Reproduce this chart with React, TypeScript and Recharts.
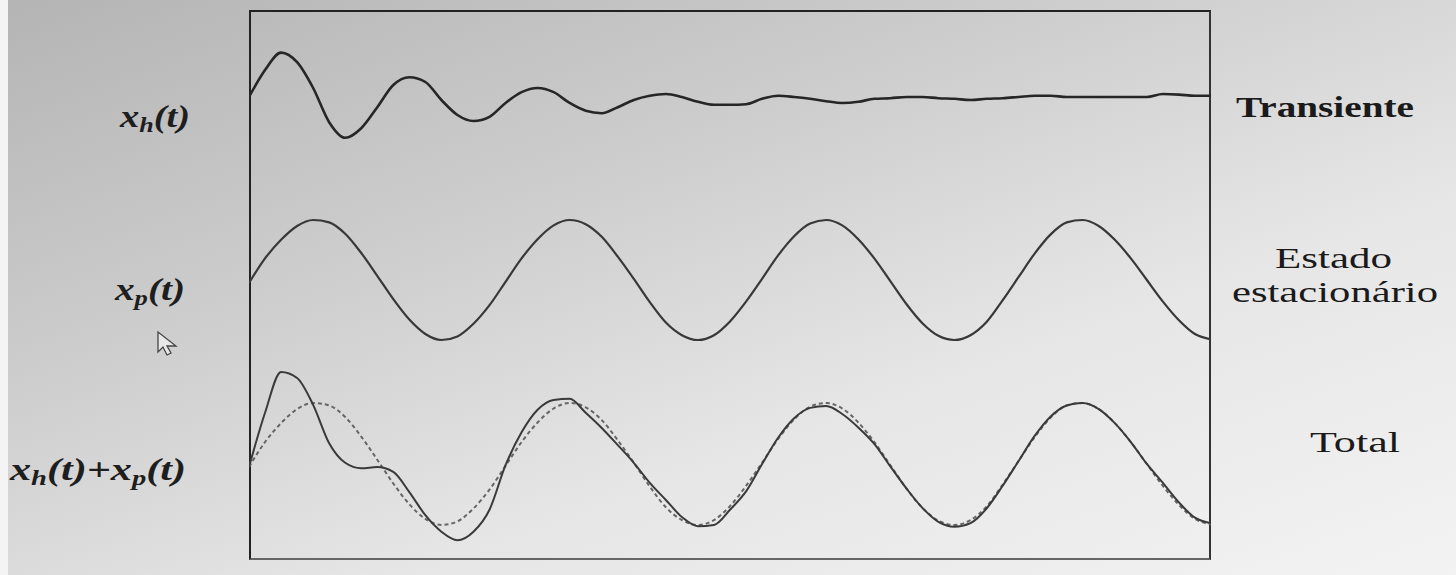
import React from "react";
import { ComposedChart, Line, XAxis, YAxis } from "recharts";

// values, one sample every ~16px across the frame
const transient = [
  0.0, 0.45, 0.74, 0.58, 0.15, -0.42, -0.68, -0.52, -0.17, 0.2, 0.33, 0.25, -0.05, -0.3, -0.4, -0.33,
  -0.1, 0.08, 0.15, 0.08, -0.1, -0.23, -0.27, -0.17, -0.05, 0.02, 0.05, 0.0, -0.08, -0.13, -0.13,
  -0.12, -0.03, 0.02, 0.0, -0.03, -0.07, -0.1, -0.08, -0.03, -0.02, 0.0, 0.0, -0.02, -0.03, -0.05,
  -0.03, -0.02, 0.0, 0.02, 0.02, 0.0, 0.0, 0.0, 0.0, 0.0, 0.0, 0.05, 0.04, 0.02, 0.02,
];

const steady = [
  -0.05, 0.36, 0.67, 0.9, 1.0, 0.96, 0.77, 0.45, 0.07, -0.32, -0.66, -0.9, -1.0, -0.94, -0.73, -0.42,
  -0.03, 0.36, 0.68, 0.91, 1.0, 0.93, 0.72, 0.39, 0.02, -0.37, -0.71, -0.92, -1.0, -0.92, -0.69,
  -0.36, 0.02, 0.41, 0.73, 0.94, 1.0, 0.91, 0.68, 0.36, -0.02, -0.4, -0.72, -0.93, -1.0, -0.92,
  -0.7, -0.34, 0.05, 0.44, 0.76, 0.96, 1.0, 0.9, 0.67, 0.36, 0.0, -0.36, -0.67, -0.9, -0.99,
];

const total = [
  -0.05, 0.84, 1.51, 1.41, 0.97, 0.34, 0.02, -0.07, -0.05, -0.13, -0.46, -0.84, -1.11, -1.25, -1.11,
  -0.75, -0.02, 0.52, 0.89, 1.05, 1.07, 0.84, 0.59, 0.31, 0.02, -0.31, -0.59, -0.87, -1.02, -1.0,
  -0.75, -0.45, 0.0, 0.43, 0.75, 0.92, 0.95, 0.82, 0.6, 0.33, -0.04, -0.4, -0.72, -0.95, -1.03,
  -0.97, -0.73, -0.36, 0.05, 0.46, 0.78, 0.96, 1.0, 0.9, 0.67, 0.36, 0.0, -0.31, -0.63, -0.88, -0.97,
];

const leftLabels = ["h", "p"];
const rightLabels = ["Transiente", "Estado", "estacionário", "Total"];

const data = transient.map((v, i) => ({ t: i, xh: v, xp: steady[i], total: total[i] }));

const serif = "Liberation Serif, Times New Roman, Times, serif";

export default function App() {
  return (
    <div
      style={{
        position: "absolute",
        left: 0,
        top: 0,
        width: 1456,
        height: 575,
        overflow: "hidden",
        background: "linear-gradient(160deg, #b4b4b4 0%, #cdcdcd 35%, #e6e6e6 65%, #f3f3f3 100%)",
      }}
    >
      <div style={{ position: "absolute", left: 0, top: 0, width: 8, height: 575, background: "#f4f4f4" }} />
      <div
        style={{
          position: "absolute",
          left: 249,
          top: 10,
          width: 962,
          height: 550,
          boxSizing: "border-box",
          borderTop: "2px solid #222",
          borderLeft: "2px solid #222",
          borderRight: "2px solid #333",
          borderBottom: "2px solid #666",
        }}
      />
      <div style={{ position: "absolute", left: 249, top: 10 }}>
        <ComposedChart width={962} height={550} data={data} margin={{ top: 0, right: 0, bottom: 0, left: 0 }}>
          <XAxis dataKey="t" type="number" domain={[0, 60]} hide />
          <YAxis yAxisId="top" type="number" domain={[-7.717, 1.45]} allowDataOverflow hide />
          <YAxis yAxisId="mid" type="number" domain={[-4.667, 4.5]} allowDataOverflow hide />
          <YAxis yAxisId="bot" type="number" domain={[-1.574, 7.443]} allowDataOverflow hide />
          <Line yAxisId="top" dataKey="xh" type="monotone" stroke="#262626" strokeWidth={2.6} dot={false} isAnimationActive={false} />
          <Line yAxisId="mid" dataKey="xp" type="monotone" stroke="#383838" strokeWidth={2.2} dot={false} isAnimationActive={false} />
          <Line yAxisId="bot" dataKey="xp" type="monotone" stroke="#666" strokeWidth={2} strokeDasharray="4 3" dot={false} isAnimationActive={false} />
          <Line yAxisId="bot" dataKey="total" type="monotone" stroke="#3a3a3a" strokeWidth={2} dot={false} isAnimationActive={false} />
        </ComposedChart>
      </div>
      <svg width={1456} height={575} style={{ position: "absolute", left: 0, top: 0, fontFamily: serif }}>
        <g style={{ fontFamily: serif, fontStyle: "italic", fontWeight: "bold" }} fill="#1e1e1e">
          <text x={120} y={127} fontSize={31} textLength={70} lengthAdjust="spacingAndGlyphs">
            x<tspan fontSize={21} dy={5}>{leftLabels[0]}</tspan><tspan dy={-5} fontSize={31}>(t)</tspan>
          </text>
          <text x={115} y={300} fontSize={31} textLength={70} lengthAdjust="spacingAndGlyphs">
            x<tspan fontSize={21} dy={5}>{leftLabels[1]}</tspan><tspan dy={-5} fontSize={31}>(t)</tspan>
          </text>
          <text x={10} y={480} fontSize={31} textLength={176} lengthAdjust="spacingAndGlyphs">
            x<tspan fontSize={21} dy={5}>{leftLabels[0]}</tspan><tspan dy={-5} fontSize={31}>(t)+x</tspan>
            <tspan fontSize={21} dy={5}>{leftLabels[1]}</tspan><tspan dy={-5} fontSize={31}>(t)</tspan>
          </text>
        </g>
        <g style={{ fontFamily: serif }} fill="#1a1a1a">
          <text x={1236} y={117} fontSize={30} fontWeight="bold" textLength={178} lengthAdjust="spacingAndGlyphs">
            {rightLabels[0]}
          </text>
          <text x={1275} y={268} fontSize={30} textLength={117} lengthAdjust="spacingAndGlyphs">
            {rightLabels[1]}
          </text>
          <text x={1232} y={302} fontSize={30} textLength={206} lengthAdjust="spacingAndGlyphs">
            {rightLabels[2]}
          </text>
          <text x={1310} y={452} fontSize={30} textLength={90} lengthAdjust="spacingAndGlyphs">
            {rightLabels[3]}
          </text>
        </g>
        <path d="M158 332 L158 352 L163 347 L167 355 L171 353 L167 346 L176 346 Z" fill="#e8e8e8" stroke="#444" strokeWidth={1.3} />
      </svg>
    </div>
  );
}
